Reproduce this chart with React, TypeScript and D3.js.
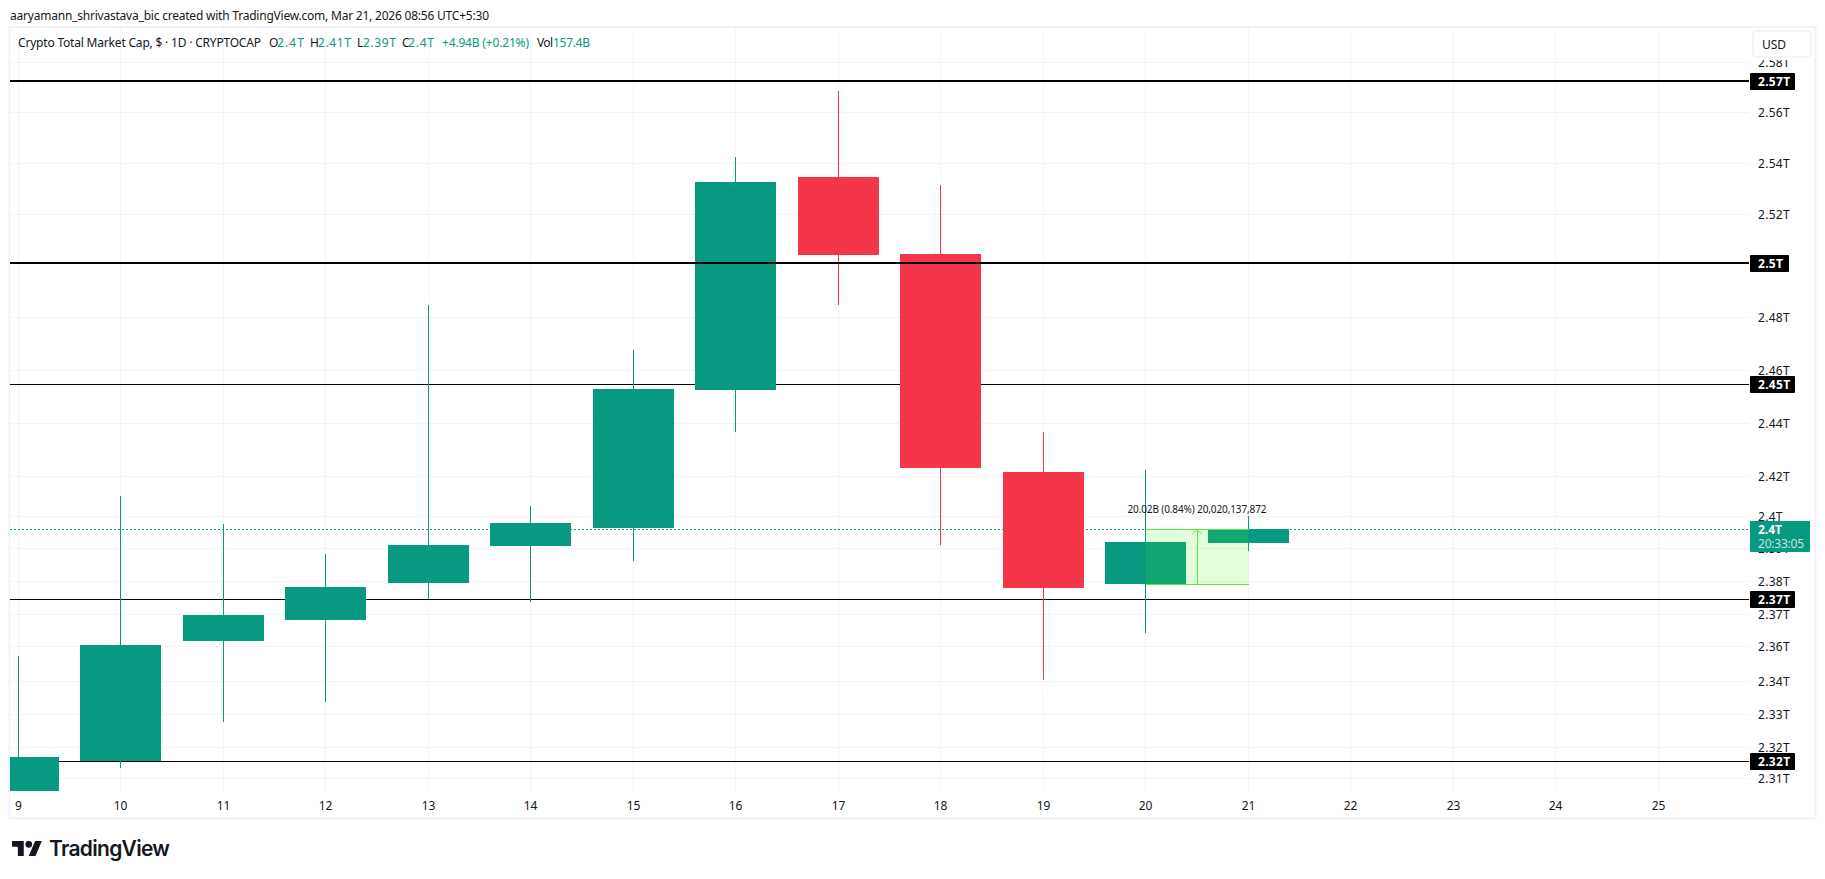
import React from "react";
import * as d3 from "d3";

// ---- data (trillions USD) ----
const days = [9, 10, 11, 12, 13, 14, 15, 16, 17, 18, 19, 20, 21];
const opens = [2.3096, 2.3200, 2.3623, 2.3698, 2.3830, 2.3963, 2.4028, 2.4532, 2.5331, 2.5040, 2.4232, 2.3826, 2.3974];
const closes = [2.3214, 2.3609, 2.3715, 2.3816, 2.3967, 2.4046, 2.4536, 2.5312, 2.5036, 2.4246, 2.3812, 2.3977, 2.4023];
const highs = [2.3570, 2.4144, 2.4043, 2.3934, 2.4848, 2.4108, 2.4681, 2.5408, 2.5661, 2.5301, 2.4378, 2.4239, 2.4071];
const lows = [2.3096, 2.3177, 2.3338, 2.3408, 2.3773, 2.3763, 2.3910, 2.4379, 2.4848, 2.3967, 2.3485, 2.3653, 2.3946];

const timeTicks = [9, 10, 11, 12, 13, 14, 15, 16, 17, 18, 19, 20, 21, 22, 23, 24, 25];

const priceTickValues = [2.5774, 2.5580, 2.5385, 2.5191, 2.4803, 2.4606, 2.4411, 2.4217, 2.4070, 2.3956, 2.3837, 2.3719, 2.3605, 2.3481, 2.3365, 2.3249, 2.3141];
const priceTickLabels = ["2.58T", "2.56T", "2.54T", "2.52T", "2.48T", "2.46T", "2.44T", "2.42T", "2.4T", "2.39T", "2.38T", "2.37T", "2.36T", "2.34T", "2.33T", "2.32T", "2.31T"];

const levelValues = [2.57, 2.5006, 2.4554, 2.3773, 2.32];
const levelLabels = ["2.57T", "2.5T", "2.45T", "2.37T", "2.32T"];
const levelHeavy = [true, true, false, false, false];

const lastPrice = 2.4025;
const lastLabel = "2.4T";
const countdown = "20:33:05";

const rulerDays = [20, 21];
const rulerPrices = [2.3826, 2.4023];
const rulerText = "20.02B (0.84%) 20,020,137,872";

const UP = "#089981";
const DOWN = "#F43748";
const GRID = "#f3f4f6";
const FRAME = "#f0f3fa";
const INK = "#131722";
const FONT = "'Noto Sans', sans-serif";

export default function App() {
  const width = 1825;
  const height = 879;
  const paneL = 10;
  const paneR = 1749;
  const paneT = 27;
  const paneB = 791;

  const xRaw = d3.scaleLinear().domain([9, 25]).range([18, 1658]);
  const x = (d: number) => Math.floor(xRaw(d)) + 0.5;
  const y = d3.scaleLog().domain([2.57, 2.32]).range([81, 761]);
  const py = (v: number) => Math.round(y(v)) + 0.5;
  const halfBody = 40.5;

  const candles = days.map((d, i) => ({ d, o: opens[i], c: closes[i], h: highs[i], l: lows[i] }));

  const levelLine = (v: number, heavy: boolean, key: string) => (
    <line key={key} x1={paneL} x2={paneR} y1={Math.round(y(v)) + (heavy ? 0 : 0.5)} y2={Math.round(y(v)) + (heavy ? 0 : 0.5)} stroke="#000" strokeWidth={heavy ? 2 : 1.2} shapeRendering="crispEdges" />
  );

  const rx0 = x(rulerDays[0]);
  const rx1 = x(rulerDays[1]);
  const ry0 = py(rulerPrices[0]);
  const ry1 = py(rulerPrices[1]);
  const rxm = (rx0 + rx1) / 2;

  const legend: [string, number, number, string][] = [
    ["O", 269, 8, INK],
    ["2.4T", 277, 27, UP],
    ["H", 310, 8, INK],
    ["2.41T", 318, 33, UP],
    ["L", 357, 6, INK],
    ["2.39T", 363, 33, UP],
    ["C", 402, 6, INK],
    ["2.4T", 408, 26, UP],
    ["+4.94B (+0.21%)", 442, 87, UP],
    ["Vol", 537, 16, INK],
    ["157.4B", 553, 37, UP],
  ];

  return (
    <svg
      width={width}
      height={height}
      viewBox={`0 0 ${width} ${height}`}
      style={{ position: "fixed", left: 0, top: 0, display: "block", background: "#fff" }}
      fontFamily={FONT}
    >
      <defs>
        <clipPath id="pane">
          <rect x={paneL} y={paneT} width={paneR - paneL} height={paneB - paneT} />
        </clipPath>
      </defs>
      <rect width={width} height={height} fill="#fff" />

      <text x={10} y={15} fontSize={12} fill={INK} dominantBaseline="central" textLength={479}>
        aaryamann_shrivastava_bic created with TradingView.com, Mar 21, 2026 08:56 UTC+5:30
      </text>

      {/* frame */}
      <rect x={9.5} y={27} width={1806} height={791.5} fill="none" stroke={FRAME} strokeWidth={2} />

      {/* grid */}
      <g shapeRendering="crispEdges">
        {timeTicks.map((t) => (
          <line key={t} x1={x(t)} x2={x(t)} y1={paneT} y2={paneB} stroke={GRID} strokeWidth={1} />
        ))}
        {priceTickValues.map((v, i) => (
          <line key={i} x1={paneL} x2={paneR} y1={py(v)} y2={py(v)} stroke={GRID} strokeWidth={1} />
        ))}
      </g>

      <g clipPath="url(#pane)">
        {/* thin levels sit under the candles */}
        {levelValues.map((v, i) => (!levelHeavy[i] ? levelLine(v, false, `t${i}`) : null))}
        <line x1={paneL} x2={paneR} y1={py(lastPrice)} y2={py(lastPrice)} stroke={UP} strokeWidth={1} strokeDasharray="2 2" shapeRendering="crispEdges" />

        <g shapeRendering="crispEdges">
          {candles.map((k) => {
            const col = k.c >= k.o ? UP : DOWN;
            const top = y(Math.max(k.o, k.c));
            const bot = y(Math.min(k.o, k.c));
            return (
              <g key={k.d}>
                <line x1={x(k.d)} x2={x(k.d)} y1={y(k.h)} y2={y(k.l)} stroke={col} strokeWidth={1} />
                <rect x={x(k.d) - halfBody} y={top} width={halfBody * 2} height={bot - top} fill={col} />
              </g>
            );
          })}
        </g>

        {levelValues.map((v, i) => (levelHeavy[i] ? levelLine(v, true, `h${i}`) : null))}

        {/* price range ruler */}
        <rect x={rx0} y={ry1} width={rx1 - rx0} height={ry0 - ry1} fill="rgba(76,240,40,0.16)" />
        <g stroke="#5fe83a" strokeWidth={1} fill="none">
          <line x1={rx0} x2={rx1} y1={ry1} y2={ry1} shapeRendering="crispEdges" />
          <line x1={rx0} x2={rx1} y1={ry0} y2={ry0} shapeRendering="crispEdges" />
          <line x1={rxm} x2={rxm} y1={ry0} y2={ry1} shapeRendering="crispEdges" />
          <path d={`M${rxm - 5},${ry1 + 5}L${rxm},${ry1}L${rxm + 5},${ry1 + 5}`} />
        </g>
        <text x={rxm} y={ry1 - 20.5} fontSize={10} fill={INK} textAnchor="middle" dominantBaseline="central" textLength={139}>
          {rulerText}
        </text>
      </g>

      {/* time axis */}
      {timeTicks.map((t) => (
        <text key={t} x={x(t)} y={805} fontSize={12} fill={INK} textAnchor="middle" dominantBaseline="central">
          {t}
        </text>
      ))}

      {/* price axis */}
      {priceTickValues.map((v, i) => (
        <text key={i} x={1758} y={py(v)} fontSize={12} fill={INK} letterSpacing={0.3} dominantBaseline="central">
          {priceTickLabels[i]}
        </text>
      ))}
      {levelValues.map((v, i) => (
        <g key={i}>
          <rect x={1750} y={Math.round(y(v)) - 8} width={levelLabels[i].length === 4 ? 39 : 45} height={17} rx={1} fill="#000" />
          <text x={1758} y={Math.round(y(v)) + 0.5} fontSize={12} fontWeight={700} fill="#fff" letterSpacing={0.3} dominantBaseline="central">
            {levelLabels[i]}
          </text>
        </g>
      ))}
      <rect x={1750} y={521} width={60} height={31} rx={1} fill={UP} />
      <text x={1758} y={529.5} fontSize={12} fontWeight={700} fill="#fff" dominantBaseline="central">
        {lastLabel}
      </text>
      <text x={1758} y={543.5} fontSize={12} fill="#fff" fillOpacity={0.75} dominantBaseline="central" textLength={46}>
        {countdown}
      </text>

      {/* currency button, with the white backing that clips the top tick */}
      <rect x={1751} y={29} width={62} height={31} fill="#fff" />
      <rect x={1753} y={31} width={58} height={26} rx={4} fill="#fff" stroke="#e9ebf1" strokeWidth={1} />
      <text x={1762} y={44.5} fontSize={12} fill={INK} dominantBaseline="central">
        USD
      </text>

      {/* legend */}
      <text x={18} y={42} fontSize={12} fill={INK} dominantBaseline="central" textLength={243}>
        Crypto Total Market Cap, $ · 1D · CRYPTOCAP
      </text>
      {legend.map(([s, lx, w, c], i) => (
        <text key={i} x={lx} y={42} fontSize={12} fill={c} dominantBaseline="central" textLength={w}>
          {s}
        </text>
      ))}

      {/* TradingView mark */}
      <g transform="translate(12,837.6) scale(0.84)" fill={INK}>
        <path d="M14 22H7V11H0V4h14v18zM28 22h-8l7.5-18h8L28 22z" />
        <circle cx={20} cy={8} r={4} />
      </g>
      <text x={49} y={848} fontFamily="Inter, sans-serif" fontWeight={600} fontSize={21} fill={INK} dominantBaseline="central" textLength={121}>
        TradingView
      </text>
    </svg>
  );
}
